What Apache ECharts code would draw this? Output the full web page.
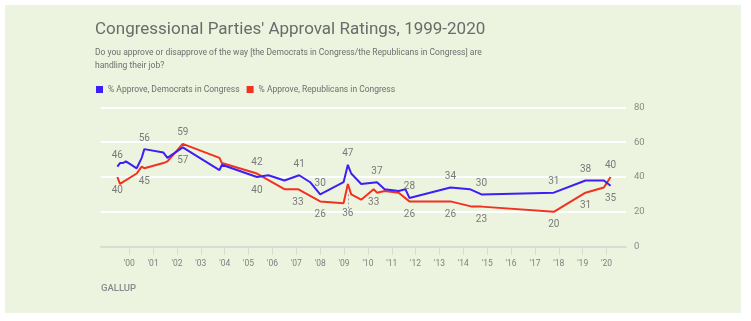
<!DOCTYPE html>
<html><head><meta charset="utf-8">
<script src="https://cdn.jsdelivr.net/npm/echarts@6/dist/echarts.min.js"></script>
<style>html,body{margin:0;padding:0;background:#fff}#c{width:751px;height:321px}</style>
</head><body><div id="c"></div>
<script>
// ---- data ----
var titleText = "Congressional Parties' Approval Ratings, 1999-2020";
var subText = "Do you approve or disapprove of the way [the Democrats in Congress/the Republicans in Congress] are\nhandling their job?";
var seriesNames = ["% Approve, Democrats in Congress", "% Approve, Republicans in Congress"];
var tickYears = [2000,2001,2002,2003,2004,2005,2006,2007,2008,2009,2010,2011,2012,2013,2014,2015,2016,2017,2018,2019,2020];
var yTicks = [0,20,40,60,80];

var demDates = [1999.50,1999.61,1999.72,1999.86,2000.31,2000.52,2000.63,2001.43,2001.60,2002.24,2003.78,2003.88,2005.35,2005.83,2006.50,2007.12,2007.58,2008.00,2008.98,2009.16,2009.30,2009.72,2010.38,2010.70,2011.29,2011.57,2011.74,2013.46,2014.27,2014.76,2017.79,2019.12,2019.89,2020.17];
var demValues = [46,48,48,49,45,51,56,54,51,57,44,47,40,41,38,41,37,30,37,47,42,36,37,33,32,33,28,34,33,30,31,38,38,35];

var repDates = [1999.50,1999.61,2000.31,2000.52,2000.63,2001.43,2001.60,2002.24,2003.78,2003.88,2005.35,2006.50,2007.07,2008.00,2008.98,2009.16,2009.30,2009.72,2010.24,2010.38,2010.70,2011.29,2011.74,2013.46,2014.36,2014.76,2017.79,2019.12,2019.89,2020.17];
var repValues = [40,36,42,46,45,48,49,59,51,48,42,33,33,26,25,36,30,27,33,31,32,31,26,26,23,23,20,31,34,40];

// labelled points: index -> placement
var demLabelled = {0:'top',6:'top',9:'bottom',12:'bottom',15:'top',17:'top',19:'top',22:'top',26:'top',27:'top',29:'top',30:'top',31:'top',33:'bottom'};
var repLabelled = {0:'bottom',4:'bottom',7:'top',10:'top',12:'bottom',13:'bottom',15:'bottom',18:'bottom',22:'bottom',23:'bottom',25:'bottom',26:'bottom',27:'bottom',29:'top'};
var leaderIndex = 15; // rep point with a dashed leader to its label

var BLUE = '#3d1ef7', RED = '#f2311f', TXT = '#7a7a7a';

function build(dates, values, labelled, special) {
  return dates.map(function (d, i) {
    var item = { value: [d, values[i]] };
    if (labelled[i]) {
      var pos = labelled[i];
      item.label = { show: true, position: pos, distance: (special === i) ? 25 : (pos === 'bottom' ? 8 : 6) };
    }
    return item;
  });
}

var chart = echarts.init(document.getElementById('c'), null, {renderer: 'canvas'});
var F = 'Roboto, "Open Sans", sans-serif';
chart.setOption({
  animation: false,
  textStyle: { fontFamily: F },
  graphic: [
    { type: 'rect', shape: { x: 5, y: 5, width: 736, height: 308 }, style: { fill: '#ecf3de' }, z: -10 },
    { type: 'text', left: 101, top: 284, style: { text: 'GALLUP', fill: '#8a8a8a', font: '500 9.5px ' + F } }
  ],
  title: {
    text: titleText, subtext: subText, left: 90, top: 16, itemGap: 8,
    textStyle: { fontSize: 17, fontWeight: 'normal', color: '#6b6b6b', fontFamily: F },
    subtextStyle: { fontSize: 8.5, color: '#6f6f6f', lineHeight: 13, fontFamily: F }
  },
  legend: {
    left: 91, top: 80, itemWidth: 7, itemHeight: 7, itemGap: 7, icon: 'rect',
    textStyle: { fontSize: 8.5, color: '#6f6f6f', fontFamily: F },
    data: seriesNames
  },
  grid: { left: 101, right: 125, top: 107.3, bottom: 74.3 },
  xAxis: {
    type: 'value', min: 1998.814, max: 2020.817,
    axisLine: { show: true, lineStyle: { color: '#d9dcd3', width: 2 } },
    axisTick: { show: true, length: 8, lineStyle: { color: '#d9dcd3', width: 1 }, customValues: tickYears },
    axisLabel: { color: '#808080', fontSize: 8.5, margin: 13, customValues: tickYears,
      formatter: function (v) { return "'" + String(Math.round(v) % 100).padStart(2, '0'); } },
    splitLine: { show: false }
  },
  yAxis: {
    type: 'value', position: 'right', min: 0, max: 80, interval: 20,
    axisLine: { show: false }, axisTick: { show: false },
    axisLabel: { color: '#8a8a8a', fontSize: 9.5, margin: 8 },
    splitLine: { lineStyle: { color: '#ffffff', width: 2 } }
  },
  series: [
    { name: seriesNames[0], type: 'line', data: build(demDates, demValues, demLabelled, -1),
      color: BLUE, showSymbol: true, symbol: 'circle', symbolSize: 0.01, lineStyle: { width: 2, color: BLUE },
      labelLayout: { hideOverlap: false },
      label: { show: false, color: TXT, fontSize: 10 }, z: 3 },
    { name: seriesNames[1], type: 'line', data: build(repDates, repValues, repLabelled, leaderIndex),
      color: RED, showSymbol: true, symbol: 'circle', symbolSize: 0.01, lineStyle: { width: 2, color: RED },
      labelLayout: { hideOverlap: false },
      label: { show: false, color: TXT, fontSize: 10 }, z: 2,
      markLine: { silent: true, symbol: 'none', label: { show: false }, z: 5,
        lineStyle: { color: '#a0a0a0', type: [2, 2], width: 1 },
        data: [[{ coord: [repDates[leaderIndex], repValues[leaderIndex] - 6] }, { coord: [repDates[leaderIndex], repValues[leaderIndex] - 14] }]] } }
  ]
});
</script></body></html>
